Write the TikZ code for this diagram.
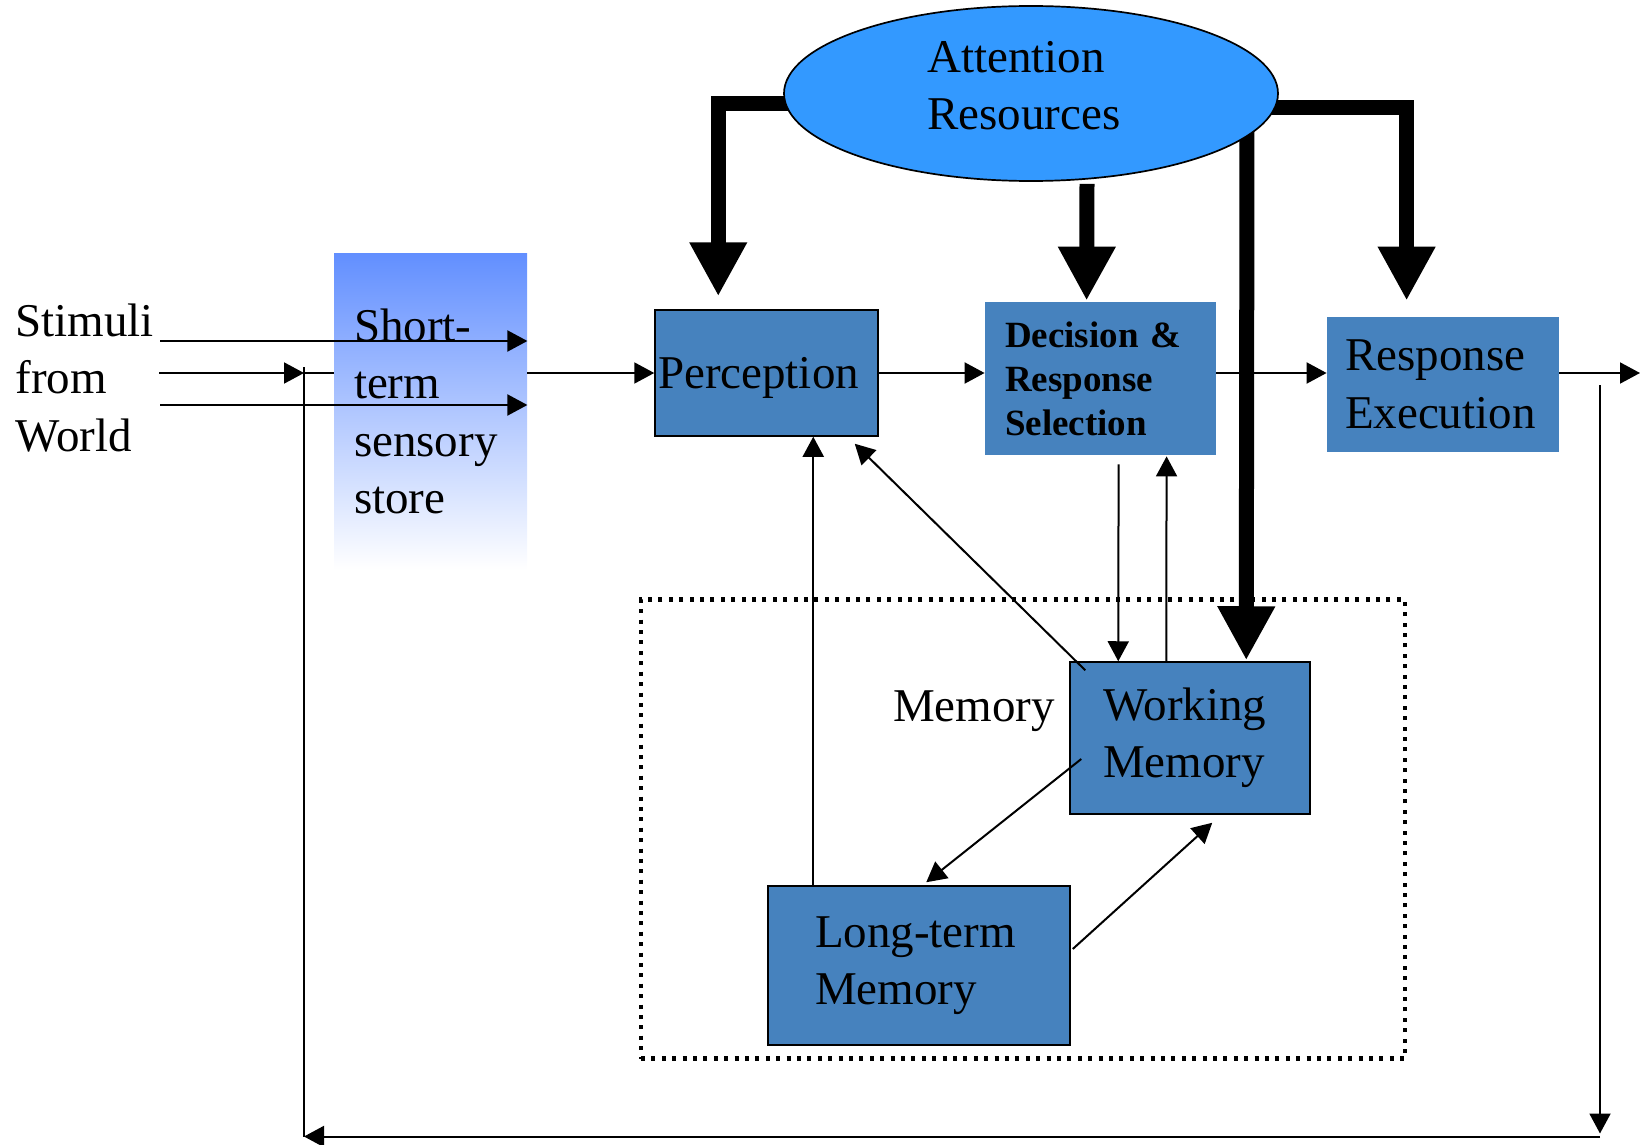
\documentclass[tikz,border=0pt]{standalone}
\usepackage{fontspec}
\setmainfont{Liberation Serif}
\usetikzlibrary{arrows.meta,calc,shapes.geometric,backgrounds}
\definecolor{boxblue}{RGB}{70,130,190}
\definecolor{ellblue}{RGB}{51,153,255}
\definecolor{ssstop}{RGB}{98,143,255}
\begin{document}
\begin{tikzpicture}[x=0.5pt,y=-0.5pt,
  big/.style={font=\fontsize{23.5}{28.75}\selectfont},
  bluebox/.style={rectangle, fill=boxblue, align=left, big, inner ysep=0pt},
  bordered/.style={draw=black, line width=0.75pt},
  conn/.style={line width=1pt, -{Triangle[length=10pt,width=10.5pt]}},
  plain/.style={line width=1pt},
  fat/.style={line width=7.5pt, line join=miter, -{Triangle[length=27pt,width=27pt]}}
]
\useasboundingbox (0,0) rectangle (1640,1145);

% memory region
\node[draw, dash pattern=on 2pt off 3.2pt, line width=2.1pt, minimum width=382pt,
      minimum height=229.5pt, inner sep=0pt] (memb) at (1023,829) {};
\node[big, inner sep=0pt] (memlbl) at (974,711) {Memory};

% boxes
\node[rectangle, top color=ssstop, bottom color=white, minimum height=158.5pt,
      inner xsep=10pt, text width=76.5pt, align=left, big] (sss) at (430.5,411.5)
      {Short-\\term\\sensory\\store};
\node[bluebox, bordered, minimum height=63pt, inner xsep=1.5pt, text width=108.5pt,
      text depth=0pt] (perc) at (766.5,373) {Perception};
\node[bluebox, minimum height=76.5pt, inner xsep=10pt, text width=95.5pt,
      font=\fontsize{18.5}{22}\selectfont\bfseries] (dec) at (1100.5,378.5)
      {Decision \&\\Response\\Selection};
\node[bluebox, minimum height=67.5pt, inner xsep=9pt, text width=98pt]
      (resp) at (1443,384.5) {Response\\Execution};
\node[bluebox, bordered, minimum height=76pt, inner xsep=16.5pt, text width=87pt]
      (wm) at (1190,738) {Working\\Memory};
\node[bluebox, bordered, minimum height=79.5pt, inner xsep=23.5pt, text width=104pt]
      (ltm) at (919,965.5) {Long-term\\Memory};

\node[big, align=left, inner sep=0pt, anchor=west] (stim) at (15,378) {Stimuli\\from\\World};

% attention
\node[ellipse, draw=black, line width=0.85pt, fill=ellblue, minimum width=247pt,
      minimum height=87.5pt, inner sep=0pt] (att) at (1031,93.5) {};
\node[big, align=left, inner sep=0pt] (attT) at (1024,85.5) {Attention\\Resources};

% thick attention arrows
\begin{scope}[on background layer]
\draw[fat] ($(att.west)+(8,10)$) -| ($(perc.north west)+(64,-13)$);
\draw[fat] ($(att.south)+(56,2)$) -- ($(dec.north west)+(102,-1)$);
\draw[fat] ($(att.east)+(-12,14.5)$) -| ($(resp.north west)+(80,-16)$);
\draw[fat] ($(att.center)+(216,30)$) -- ($(wm.north west)+(177,-1)$);
\end{scope}

% free-end coordinates
\coordinate (s1) at (160,341);
\coordinate (s2) at (159,373);
\coordinate (s3) at (160,405);
\coordinate (fbL1) at (304,367);
\coordinate (fbL2) at (304,1136.5);
\coordinate (fbR1) at (1600,385);
\coordinate (fbR2) at (1600,1136.5);
\coordinate (out) at (1640,374);

% stimuli
\draw[conn] (s1) -- (s1 -| sss.east);
\draw[conn] (s2) -- (s2 -| fbL1);
\draw[plain] (s2 -| fbL1) -- (s2 -| sss.west);
\draw[conn] (s3) -- (s3 -| sss.east);

% main flow
\draw[conn] (perc.west -| sss.east) -- (perc.west);
\draw[conn] (perc.east) -- (perc.east -| dec.west);
\draw[conn] (perc.east -| dec.east) -- (perc.east -| resp.west);
\draw[conn] (perc.east -| resp.east) -- (perc.east -| out);

% feedback loop
\draw[conn] (fbR1) -- ($(fbR2)+(0,-3)$);
\draw[conn] (fbR2) -- (fbL2);
\draw[plain] (fbL2) -- (fbL1);

% memory connections
\draw[conn] ($(dec.south west)+(134,9)$) -- ($(wm.north west)+(49,0)$);
\draw[conn] ($(wm.north west)+(97,0)$) -- ($(dec.south west)+(182,1)$);
\draw[conn] ($(wm.north west)+(16,9)$) -- ($(perc.south east)+(-24,7)$);
\draw[conn] ($(ltm.north west)+(46,0)$) -- ($(perc.south west)+(159,0)$);
\draw[conn] ($(wm.west)+(12,21)$) -- ($(ltm.north west)+(159,-3)$);
\draw[conn] ($(ltm.east)+(2,-16.5)$) -- ($(wm.south west)+(143,8)$);
\end{tikzpicture}
\end{document}
